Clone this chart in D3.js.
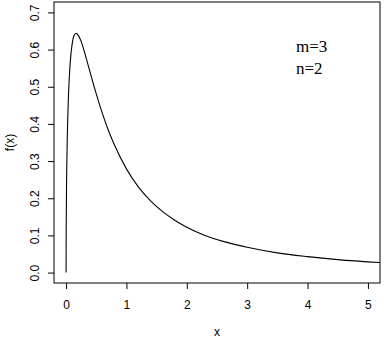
<!DOCTYPE html>
<html>
<head>
<meta charset="utf-8">
<script src="https://cdn.jsdelivr.net/npm/d3@7"></script>
<style>
  body { margin: 0; background: #fff; }
  svg { display: block; }
</style>
</head>
<body>
<div id="chart"></div>
<script>
// values
const xVals = [0, 0.002, 0.01, 0.02, 0.04, 0.06, 0.08, 0.1, 0.13, 0.167, 0.2, 0.25, 0.3, 0.4, 0.5, 0.6, 0.7, 0.8,
  1.0, 1.2, 1.4, 1.6, 1.8, 2.0, 2.3, 2.6, 3.0, 3.5, 4.0, 4.5, 5.2]
const fVals = [0, 0.12, 0.266, 0.362, 0.477, 0.544, 0.587, 0.614, 0.637, 0.644, 0.639, 0.622, 0.596, 0.538, 0.481, 0.429, 0.383, 0.344,
  0.279, 0.230, 0.193, 0.164, 0.141, 0.122, 0.100, 0.084, 0.068, 0.053, 0.043, 0.035, 0.027]
const xTicks = [0, 1, 2, 3, 4, 5]
const yTicks = [0, 0.1, 0.2, 0.3, 0.4, 0.5, 0.6, 0.7]
const labels = ["m=3", "n=2"]

const data = xVals.map((d, i) => ({x: d, y: fVals[i]}))

const W = 384, H = 343
const margin = {top: 2, right: 4, bottom: 60, left: 54}
const width = W - margin.left - margin.right,
    height = H - margin.top - margin.bottom

const svg = d3.select("#chart")
  .append("svg")
    .attr("width", W)
    .attr("height", H)
  .append("g")
    .attr("transform", `translate(${margin.left}, ${margin.top})`)

// R style 4% padding around 0..5 and 0..0.7
const x = d3.scaleLinear().domain([-0.2, 5.2]).range([0, width])
const y = d3.scaleLinear().domain([-0.028, 0.728]).range([height, 0])

// box
svg.append("rect")
  .attr("width", width).attr("height", height)
  .attr("fill", "none").attr("stroke", "#000").attr("stroke-width", 1)

// x axis
const xAxis = svg.append("g")
  .attr("transform", `translate(0, ${height})`)
  .call(d3.axisBottom(x).tickValues(xTicks).tickSize(6).tickPadding(11).tickFormat(d3.format("d")))
xAxis.select(".domain").remove()
xAxis.selectAll("text").style("font-family", "'Liberation Sans', Arial, sans-serif").style("font-size", "12px").attr("fill", "#000")

// y axis, labels rotated like R
const yAxis = svg.append("g")
  .call(d3.axisLeft(y).tickValues(yTicks).tickSize(6).tickFormat(d3.format(".1f")))
yAxis.select(".domain").remove()
yAxis.selectAll("text")
  .attr("x", 0).attr("dy", null)
  .attr("transform", "translate(-19, 0) rotate(-90)")
  .attr("text-anchor", "middle")
  .attr("dominant-baseline", "central")
  .style("font-family", "'Liberation Sans', Arial, sans-serif").style("font-size", "12px").attr("fill", "#000")

// axis titles
svg.append("text")
  .attr("x", x(2.5)).attr("y", height + 53)
  .attr("text-anchor", "middle")
  .style("font-family", "'Liberation Sans', Arial, sans-serif").style("font-size", "12px")
  .text("x")

svg.append("text")
  .attr("transform", `translate(-44, ${y(0.35)}) rotate(-90)`)
  .attr("text-anchor", "middle")
  .attr("dominant-baseline", "central")
  .style("font-family", "'Liberation Sans', Arial, sans-serif").style("font-size", "12px")
  .text("f(x)")

// density curve
svg.append("path")
  .datum(data)
  .attr("d", d3.line()
    .curve(d3.curveMonotoneX)
    .x(d => x(d.x))
    .y(d => y(d.y)))
  .attr("fill", "none")
  .attr("stroke", "#000")
  .attr("stroke-width", 1.1)

// parameter labels
svg.selectAll(".param")
  .data(labels)
  .enter()
  .append("text")
    .attr("class", "param")
    .attr("x", 296 - margin.left)
    .attr("y", (d, i) => 52 - margin.top + i * 22)
    .style("font-family", "'Liberation Serif', 'DejaVu Serif', serif")
    .style("font-size", "17px")
    .text(d => d)
</script>
</body>
</html>
